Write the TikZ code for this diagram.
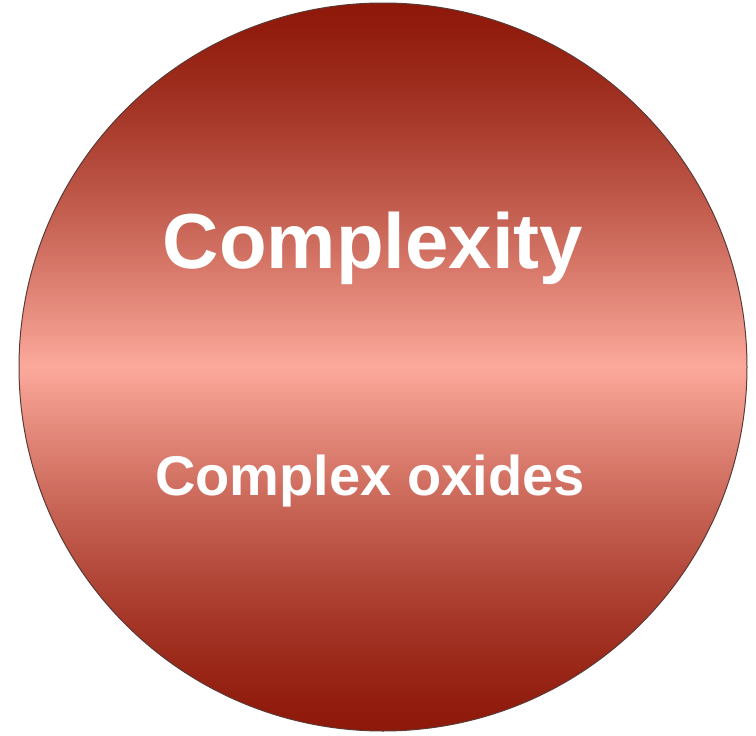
\documentclass[tikz,border=0pt]{standalone}
\usepackage{fontspec}
\setmainfont{Liberation Sans}
\usetikzlibrary{shapes,calc}
\definecolor{rimred}{HTML}{8E1809}
\definecolor{glowred}{HTML}{FCA99B}
\definecolor{rimline}{HTML}{5C3A36}

\begin{document}
\begin{tikzpicture}[x=1pt,y=-1pt,
	disc/.style={shape=circle,inner sep=0pt,minimum size=728pt,draw=rimline,line width=1pt},
	label/.style={text=white,inner sep=0pt,anchor=base}]
		\useasboundingbox (0,0) rectangle (756,736);
		\begin{scope}
			\clip (383,367) circle (364pt);
			\foreach \row in {0,2,...,736}{
				\pgfmathsetmacro\mix{100*(max(1-abs(\row+1-367)/364,0.001))^1.3}
				\fill[glowred!\mix!rimred] (0,\row-0.3) rectangle (756,\row+2.3);
			}
		\end{scope}
		\node[disc] (sphere) at (383,367) {};
		\node[label,font=\fontsize{78}{80}\selectfont\bfseries] (title) at (373,268) {Complexity};
		\node[label,font=\fontsize{56}{60}\selectfont\bfseries] (oxides) at (370,495) {Complex oxides};
	\end{tikzpicture}
\end{document}
